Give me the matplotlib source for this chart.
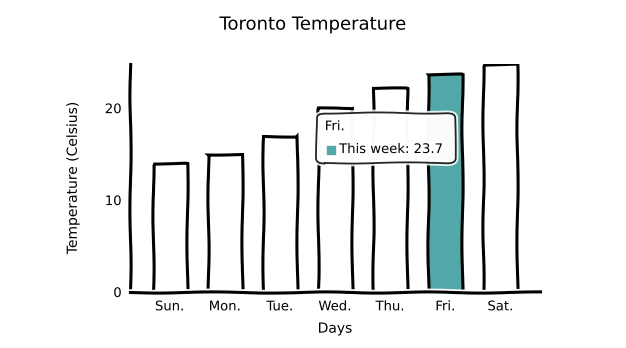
import matplotlib
matplotlib.use("Agg")
import matplotlib.pyplot as plt
from matplotlib.patches import FancyBboxPatch

days = ["Sun.", "Mon.", "Tue.", "Wed.", "Thu.", "Fri.", "Sat."]
temps = [14.0, 15.0, 17.0, 20.0, 22.2, 23.7, 24.8]
highlight = "Fri."
teal = "#52a8a8"

plt.xkcd(scale=0.6, length=120, randomness=2)
plt.rcParams['font.family'] = ['DejaVu Sans']

fig = plt.figure(figsize=(6.26, 3.48), dpi=100)
ax = fig.add_axes([0.2077, 0.161, 0.655, 0.655])

x = list(range(len(days)))
colors = [teal if d == highlight else "white" for d in days]
ax.bar(x, temps, width=0.62, color=colors, edgecolor="black", linewidth=2.2)

ax.set_xlim(-0.72, len(days) - 0.28)
ax.set_ylim(0, 24.8)
ax.set_xticks(x)
ax.set_xticklabels(days, fontsize=9.5)
ax.set_yticks([0, 10, 20])
ax.set_yticklabels(["0", "10", "20"], fontsize=9.5)
ax.tick_params(length=0, pad=6)
for s in ["top", "right"]:
    ax.spines[s].set_visible(False)
for s in ["left", "bottom"]:
    ax.spines[s].set_linewidth(2.2)

ax.set_xlabel("Days", fontsize=10, labelpad=6)
ax.set_ylabel("Temperature (Celsius)", fontsize=10, labelpad=18)
fig.suptitle("Toronto Temperature", fontsize=13, y=0.955)

# tooltip
i = days.index(highlight)
box = FancyBboxPatch((0.455, 0.566), 0.338, 0.219, transform=ax.transAxes,
                     boxstyle="round,pad=0,rounding_size=0.02",
                     facecolor="white", alpha=0.85, edgecolor="black",
                     linewidth=1.3, zorder=5)
ax.add_patch(box)
ax.text(0.475, 0.725, days[i], transform=ax.transAxes, fontsize=9.5,
        va="center", zorder=6)
ax.scatter([0.49], [0.625], transform=ax.transAxes, marker="s", s=28,
           color=teal, zorder=6)
ax.text(0.51, 0.625, "This week: %.1f" % temps[i], transform=ax.transAxes,
        fontsize=9.5, va="center", zorder=6)

fig.savefig("out.png", dpi=100)
